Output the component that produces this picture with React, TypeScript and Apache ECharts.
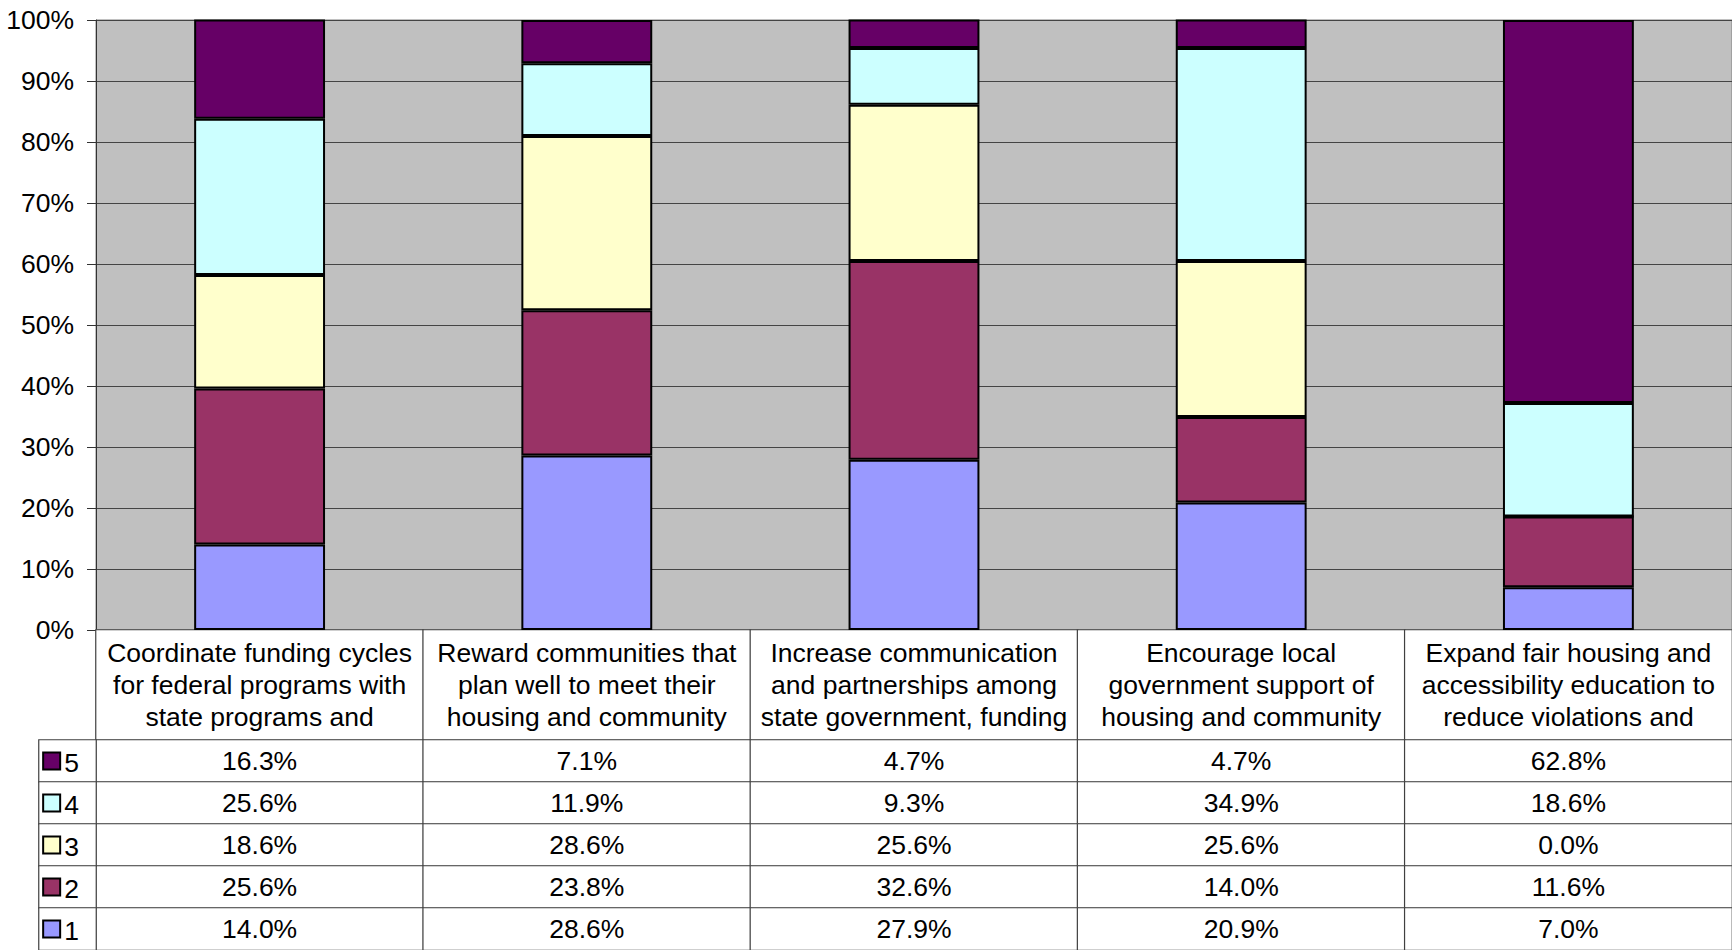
import React, { useEffect, useRef } from "react";
import * as echarts from "echarts";

const categories = [
  "Coordinate funding cycles\nfor federal programs with\nstate programs and",
  "Reward communities that\nplan well to meet their\nhousing and community",
  "Increase communication\nand partnerships among\nstate government, funding",
  "Encourage local\ngovernment support of\nhousing and community",
  "Expand fair housing and\naccessibility education to\nreduce violations and",
];
const seriesNames = ["1", "2", "3", "4", "5"];
const values1 = [14.0, 28.6, 27.9, 20.9, 7.0];
const values2 = [25.6, 23.8, 32.6, 14.0, 11.6];
const values3 = [18.6, 28.6, 25.6, 25.6, 0.0];
const values4 = [25.6, 11.9, 9.3, 34.9, 18.6];
const values5 = [16.3, 7.1, 4.7, 4.7, 62.8];
const seriesColors = ["#9999FF", "#993366", "#FFFFCC", "#CCFFFF", "#660066"];
const tableRowOrder = ["5", "4", "3", "2", "1"];

const FONT = "'Liberation Sans', Arial, sans-serif";
const FS = 26.5;

export default function App() {
  const ref = useRef<HTMLDivElement>(null);
  useEffect(() => {
    if (!ref.current) return;
    const chart = echarts.init(ref.current, null, { renderer: "svg" });
    const allValues = [values1, values2, values3, values4, values5];

    const barSeries = seriesNames.map((name, i) => ({
      name,
      type: "bar",
      stack: "total",
      xAxisIndex: 0,
      yAxisIndex: 0,
      barWidth: "40%",
      data: allValues[i],
      itemStyle: { color: seriesColors[i], borderColor: "#000", borderWidth: 2 },
      emphasis: { disabled: true },
    }));

    const headerData = categories.map((_, c) => [c, 0, c]);
    const tableData: number[][] = [];
    tableRowOrder.forEach((name, r) => {
      const si = seriesNames.indexOf(name);
      allValues[si].forEach((v, c) => tableData.push([c, r, v]));
    });
    const legendData = tableRowOrder.map((_, r) => [0, r, r]);

    const rich: any = {
      g: { width: 5, height: 15 },
      t: { fontSize: FS, fontFamily: FONT, color: "#000", padding: [3, 0, 0, 0] },
    };
    tableRowOrder.forEach((name) => {
      const si = seriesNames.indexOf(name);
      rich["b" + name] = {
        width: 15,
        height: 15,
        backgroundColor: seriesColors[si],
        borderColor: "#000",
        borderWidth: 2,
      };
    });

    const hiddenCat = (data: string[], gridIndex: number, inverse = false) => ({
      type: "category",
      gridIndex,
      data,
      inverse,
      show: false,
    });

    chart.setOption({
      animation: false,
      textStyle: { fontFamily: FONT },
      grid: [
        { left: 96, top: 20, width: 1638, height: 610, show: true, backgroundColor: "#C0C0C0", borderColor: "#808080", borderWidth: 1 },
        { left: 96, top: 630, width: 1638, height: 110 },
        { left: 96, top: 740, width: 1638, height: 210 },
        { left: 39, top: 740, width: 57, height: 210 },
      ],
      visualMap: {
        type: "continuous",
        show: false,
        seriesIndex: [5, 6, 7],
        dimension: 2,
        min: 0,
        max: 100,
        inRange: { color: ["#ffffff", "#ffffff"] },
      },
      xAxis: [
        {
          type: "category",
          gridIndex: 0,
          data: categories,
          axisLabel: { show: false },
          axisTick: { show: false },
          axisLine: { show: true, lineStyle: { color: "#000", width: 1 } },
        },
        hiddenCat(categories, 1),
        hiddenCat(categories, 2),
        hiddenCat(["legend"], 3),
      ],
      yAxis: [
        {
          type: "value",
          gridIndex: 0,
          min: 0,
          max: 100,
          interval: 10,
          axisLabel: { formatter: "{value}%", fontSize: FS, fontFamily: FONT, color: "#000", margin: 22 },
          axisLine: { show: true, lineStyle: { color: "#333", width: 1 } },
          axisTick: { show: true, inside: false, length: 9, lineStyle: { color: "#333" } },
          splitLine: { show: true, lineStyle: { color: "#444", width: 1 } },
        },
        hiddenCat(["header"], 1),
        hiddenCat(tableRowOrder, 2, true),
        hiddenCat(tableRowOrder, 3, true),
      ],
      series: [
        ...barSeries,
        {
          type: "heatmap",
          xAxisIndex: 1,
          yAxisIndex: 1,
          data: headerData,
          itemStyle: { borderColor: "#404040", borderWidth: 1.2 },
          emphasis: { disabled: true },
          label: {
            show: true,
            formatter: (p: any) => categories[p.value[2]],
            fontSize: FS,
            lineHeight: 32,
            fontFamily: FONT,
            color: "#000",
            align: "center",
          },
        },
        {
          type: "heatmap",
          xAxisIndex: 2,
          yAxisIndex: 2,
          data: tableData,
          itemStyle: { borderColor: "#404040", borderWidth: 1.2 },
          emphasis: { disabled: true },
          label: {
            show: true,
            formatter: (p: any) => Number(p.value[2]).toFixed(1) + "%",
            fontSize: FS,
            fontFamily: FONT,
            color: "#000",
            padding: [4, 0, 0, 0],
          },
        },
        {
          type: "heatmap",
          xAxisIndex: 3,
          yAxisIndex: 3,
          data: legendData,
          itemStyle: { borderColor: "#404040", borderWidth: 1.2 },
          emphasis: { disabled: true },
          label: {
            show: true,
            position: "insideLeft",
            distance: 6,
            formatter: (p: any) => {
              const name = tableRowOrder[p.value[2]];
              return "{b" + name + "|}{g|}{t|" + name + "}";
            },
            rich,
          },
        },
      ],
    });
    return () => chart.dispose();
  }, []);
  return (
    <div
      ref={ref}
      style={{ position: "absolute", left: 0, top: 0, width: 1732, height: 950, background: "#fff" }}
    />
  );
}
